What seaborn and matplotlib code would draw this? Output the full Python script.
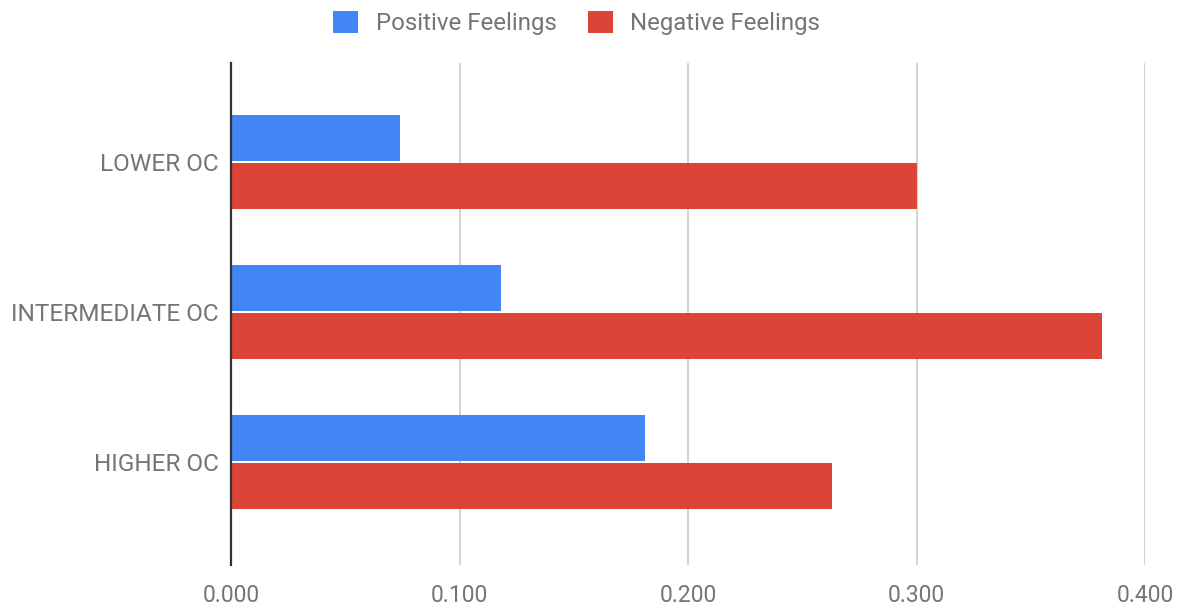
import matplotlib
matplotlib.use("Agg")
import matplotlib.pyplot as plt
import seaborn as sns
import pandas as pd

groups = ["LOWER OC", "INTERMEDIATE OC", "HIGHER OC"]
positive = [0.074, 0.118, 0.181]
negative = [0.300, 0.381, 0.263]
series_names = ["Positive Feelings", "Negative Feelings"]
x_ticks = [0.0, 0.1, 0.2, 0.3, 0.4]

df = pd.DataFrame({
    "group": groups * 2,
    "value": positive + negative,
    "series": [series_names[0]] * len(groups) + [series_names[1]] * len(groups),
})

sns.set_style("white")
plt.rcParams["font.family"] = ["Roboto", "DejaVu Sans"]
text_color = "#757575"

fig = plt.figure(figsize=(11.84, 6.06), dpi=100)
ax = fig.add_axes([231 / 1184, 1 - 565 / 606, 914 / 1184, 502 / 606])

sns.barplot(
    data=df, x="value", y="group", hue="series", order=groups,
    hue_order=series_names, palette=["#4285F4", "#DB4437"],
    orient="h", width=0.64, gap=0.03, saturation=1, linewidth=0,
    ax=ax, legend=True,
)

ax.set_xlim(0, 0.4)
ax.set_ylim(2.687, -0.66)
ax.set_xticks(x_ticks)
ax.set_xticklabels([f"{t:.3f}" for t in x_ticks])
ax.grid(axis="x", color="#cccccc", linewidth=1.2)
ax.set_axisbelow(True)
ax.set_xlabel("")
ax.set_ylabel("")
for side in ["top", "right", "bottom"]:
    ax.spines[side].set_visible(False)
ax.spines["left"].set_color("#333333")
ax.spines["left"].set_linewidth(1.6)
ax.tick_params(axis="both", length=0, colors=text_color)
ax.tick_params(axis="x", pad=14, labelsize=16.5)
ax.tick_params(axis="y", pad=9, labelsize=17.6)

handles, labels = ax.get_legend_handles_labels()
ax.get_legend().remove()
fig.legend(
    handles, labels, loc="center", bbox_to_anchor=(0.487, 1 - 23 / 606),
    ncol=2, frameon=False, fontsize=17.3, labelcolor=text_color,
    handlelength=1.05, handleheight=1.05, handletextpad=0.72, columnspacing=1.3,
)

fig.savefig("out.png", dpi=100)
